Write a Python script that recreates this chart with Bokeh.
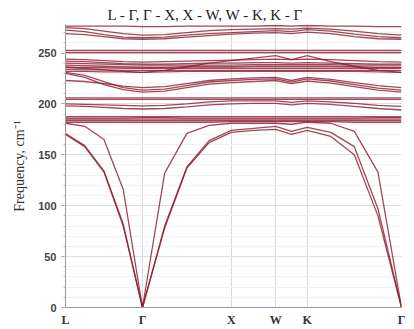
from bokeh.plotting import figure
from bokeh.models import FixedTicker, SingleIntervalTicker, Range1d
from bokeh.embed import file_html
from bokeh.resources import INLINE

# k-path coordinates (L - Γ - X - W - K - Γ)
k_dist = [0.0, 0.2165, 0.433, 0.6495, 0.866,
          1.116, 1.366, 1.616, 1.866,
          2.116, 2.366,
          2.543, 2.720,
          2.985, 3.250, 3.516, 3.781]
sym_pos = [0.0, 0.866, 1.866, 2.366, 2.720, 3.781]
sym_labels = ["L", "Γ", "X", "W", "K", "Γ"]

# acoustic branches
ta1 = [170, 158, 133, 80, 0, 78, 137, 162, 172, 174, 175, 170, 174, 168, 150, 90, 0]
ta2 = [171, 159, 134, 82, 0, 80, 138, 164, 174, 176, 178, 173, 177, 172, 158, 97, 0]
la = [181, 178, 165, 116, 0, 132, 171, 179, 181, 181, 181, 180, 182, 181, 173, 133, 0]

# flat band ~180-188
a1 = [182, 182, 182, 182, 182, 182, 182, 182, 182.5, 182.5, 182.5, 182.5, 182.5, 182.5, 182, 182, 182]
a2 = [183.5, 183.5, 183.5, 183.5, 183.5, 183.5, 183.5, 183.5, 183.5, 183.5, 183.5, 183.5, 183.5, 183.5, 183.5, 183.5, 183.5]
a3 = [185, 185, 185, 185, 185, 185, 185, 185, 185, 185, 185, 185, 185, 185, 185, 185, 185]
a4 = [186, 186, 186, 186, 186.5, 186.5, 186, 186, 186, 186, 186, 186, 186, 186, 186, 186.5, 186.5]
a5 = [187.5, 187.5, 187.5, 187.5, 187.5, 187.5, 187.5, 187.5, 187.5, 187.5, 187.5, 187.5, 187.5, 187.5, 187.5, 187.5, 187.5]

# ~195-206
b_flat1 = [204.5, 204.5, 204.5, 204.5, 204.5, 204.5, 204.5, 204.5, 204.5, 204.5, 204.5, 204.5, 204.5, 204.5, 204.5, 204.5, 204.5]
b_flat2 = [206, 206, 206, 206, 206, 206, 206, 206, 206, 206, 206, 206, 206, 206, 206, 206, 206]
b1 = [200, 199.5, 199, 198.5, 198, 198.5, 200, 202, 203, 203, 203, 201.5, 203, 202, 200.5, 198.5, 197.5]
b2 = [198, 197.5, 196.5, 195.5, 195, 195.5, 197, 199, 200, 200.5, 200.5, 199, 200.5, 199.5, 197.5, 195.5, 194]

# ~210-231
c1 = [223, 222, 220, 217.5, 216, 217, 220, 223, 224.5, 225.5, 226, 223, 226, 224, 221, 218, 216]
c2 = [231, 228, 222, 216, 213.5, 214.5, 218, 221.5, 223, 224, 224.5, 221.5, 224.5, 222.5, 219, 215.5, 213.5]
c3 = [230, 226, 219, 214, 211.5, 212.5, 216, 219.5, 221, 222, 223, 220, 222.5, 220.5, 217, 213.5, 211.5]

# dense band ~231-247
d1 = [244, 243.5, 242.5, 241.5, 241, 241.5, 242, 242.5, 243, 243.5, 244, 243.5, 244, 243.5, 242.5, 241.5, 241]
d2 = [242, 241.5, 240.5, 239.5, 239, 239, 239.5, 240, 240, 240.5, 240.5, 240, 240.5, 240, 239.5, 239, 239]
d3 = [240, 239.5, 239, 238.5, 238, 238, 238, 238, 238, 238.5, 238.5, 238.5, 238.5, 238.5, 238, 238, 238]
d4 = [238, 237.5, 237, 236.5, 236, 236, 236.5, 236.5, 236.5, 237, 237, 237, 237, 237, 236.5, 236, 236]
d5 = [236, 235.5, 235.5, 235, 235, 235, 235, 235, 235, 235, 235, 235, 235, 235, 235, 235, 235]
d6 = [234, 233.5, 233.5, 233, 233, 233, 233, 233, 233, 233, 233, 233, 233, 233, 233, 233, 233]
d7 = [232, 232, 231.5, 231.5, 231, 231.5, 232, 232, 232, 232, 232, 232, 232, 232, 232, 231.5, 231]
d8 = [236, 235, 233.5, 232, 231, 233, 236.5, 240, 242.5, 245, 247.5, 243.5, 247.5, 241.5, 237, 233, 231]

# ~250
e1 = [252.5, 252.5, 252.5, 252.5, 252.5, 252.5, 252.5, 252.5, 252.5, 252.5, 252.5, 252.5, 252.5, 252.5, 252.5, 252.5, 252.5]
e2 = [250.5, 250.5, 250.5, 250.5, 250.5, 250.5, 250.5, 250.5, 250.5, 250.5, 250.5, 250.5, 250.5, 250.5, 250.5, 250.5, 250.5]

# ~263-277
f1 = [276.5, 276.5, 276.5, 276.5, 276, 276, 276.5, 276.5, 276.5, 276.5, 277, 276.5, 277, 276.5, 276.5, 276, 276]
f2 = [275, 274, 271.5, 269, 267.5, 268, 270, 272, 273, 273.5, 274, 273.5, 274.5, 273.5, 271.5, 269, 267.5]
f3 = [272.5, 271, 268, 265.5, 265, 265.5, 267.5, 269, 270, 271, 272, 271, 273, 271.5, 268.5, 266, 265]
f4 = [269, 268, 266, 264, 263.5, 264, 265.5, 267, 268.5, 269.5, 270, 269, 270.5, 269, 266, 264, 263.5]

bands = [ta1, ta2, la, a1, a2, a3, a4, a5, b_flat1, b_flat2, b1, b2,
         c1, c2, c3, d1, d2, d3, d4, d5, d6, d7, d8, e1, e2, f1, f2, f3, f4]

p = figure(width=414, height=329, output_backend="svg", toolbar_location=None,
           x_range=Range1d(0, 3.781), y_range=Range1d(0, 278),
           min_border_left=65, min_border_right=13, min_border_top=24,
           min_border_bottom=21)

p.title.text = "L - Γ, Γ - X, X - W, W - K, K - Γ"
p.title.align = "left"
p.title.offset = 42
p.title.text_font = "Liberation Serif"
p.title.text_font_size = "15px"
p.title.text_font_style = "normal"
p.title.text_color = "#222222"
p.title.standoff = 4

for band in bands:
    p.line(k_dist, band, line_color="#8b1a2e", line_width=1.3, line_alpha=0.8)

p.outline_line_color = None
p.background_fill_color = "white"
p.border_fill_color = "white"

# x axis
p.xaxis.ticker = FixedTicker(ticks=sym_pos)
p.xaxis.major_label_overrides = {v: s for v, s in zip(sym_pos, sym_labels)}
p.xaxis.major_label_text_font = "Liberation Serif"
p.xaxis.major_label_text_font_style = "bold"
p.xaxis.major_label_text_font_size = "12px"
p.xaxis.major_label_text_color = "#333333"
p.xaxis.axis_line_color = "#999999"
p.xaxis.major_tick_line_color = None
p.xaxis.minor_tick_line_color = None
p.xaxis.major_tick_out = 0
p.xaxis.major_tick_in = 0
p.xaxis.minor_tick_out = 0
p.xaxis.minor_tick_in = 0
p.xaxis.major_label_standoff = 5
p.xgrid.ticker = FixedTicker(ticks=sym_pos)
p.xgrid.grid_line_color = "#d8d8d8"

# y axis
p.yaxis.ticker = SingleIntervalTicker(interval=50, num_minor_ticks=5)
p.yaxis.axis_label = "Frequency, cm⁻¹"
p.yaxis.axis_label_text_font = "Liberation Serif"
p.yaxis.axis_label_text_font_style = "normal"
p.yaxis.axis_label_text_font_size = "14px"
p.yaxis.axis_label_text_color = "#333333"
p.yaxis.axis_label_standoff = 8
p.yaxis.major_label_text_font = "Liberation Sans"
p.yaxis.major_label_text_font_style = "bold"
p.yaxis.major_label_text_font_size = "11px"
p.yaxis.major_label_text_color = "#444444"
p.yaxis.axis_line_color = "#999999"
p.yaxis.major_tick_line_color = "#999999"
p.yaxis.major_tick_out = 4
p.yaxis.major_tick_in = 0
p.yaxis.minor_tick_line_color = "#bbbbbb"
p.yaxis.minor_tick_out = 2
p.yaxis.minor_tick_in = 0
p.yaxis.major_label_standoff = 5
p.ygrid.grid_line_color = "#dddddd"
p.ygrid.minor_grid_line_color = "#f2f2f2"

open("out.html", "w").write(file_html(p, INLINE))
